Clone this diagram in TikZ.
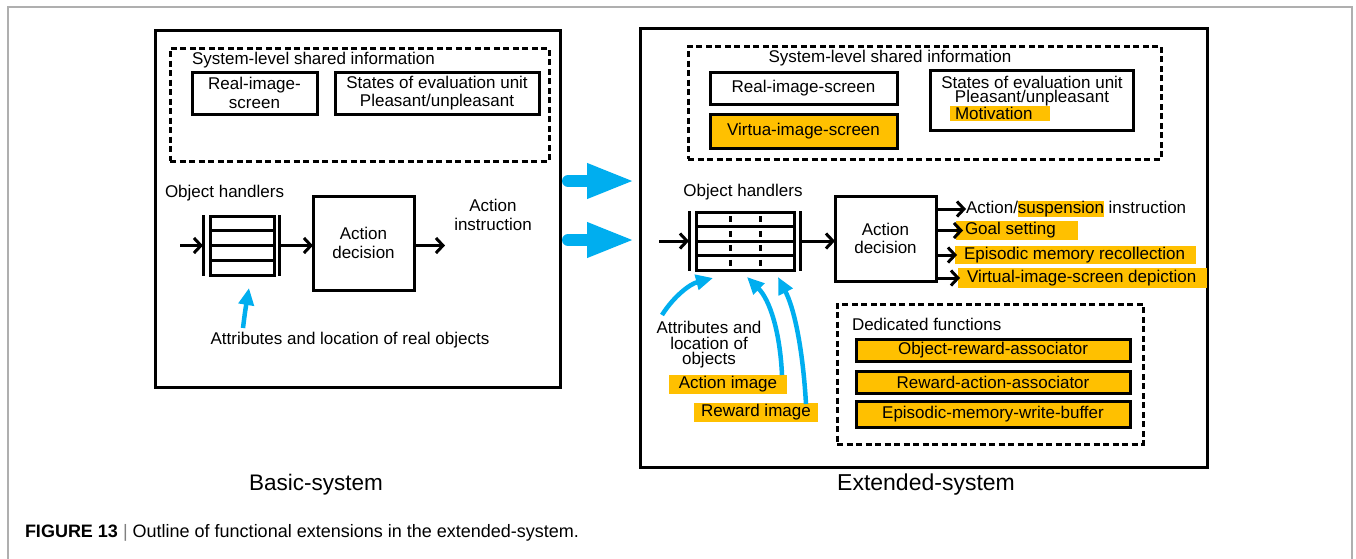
\documentclass[tikz,border=0pt]{standalone}
\usepackage{fontspec}
\setmainfont{Liberation Sans}
\usetikzlibrary{arrows.meta,calc}
\definecolor{hlyellow}{RGB}{255,192,0}
\definecolor{skyblue}{RGB}{0,174,239}
\definecolor{framegray}{RGB}{175,175,175}
\newcommand\mainfs{\fontsize{17pt}{18.5pt}\selectfont}
\newcommand\hlword[1]{{\setlength{\fboxsep}{0pt}\colorbox{hlyellow}{\rule[-4pt]{0pt}{16pt}#1}}}
% left-set text in a box of fixed width: #1 width, #2 left inset, #3 text
\newcommand\lbox[3]{\makebox[#1][l]{\hspace*{#2}#3}}
\begin{document}
\begin{tikzpicture}[x=1pt, y=-1pt,
  every node/.style={inner sep=0pt, outer sep=0pt, font=\mainfs},
  panel/.style={draw, line width=3pt},
  dbox/.style={draw, line width=3pt, dash pattern=on 6pt off 3.5pt},
  sbox/.style={draw, line width=3pt, align=center},
  hlfill/.style={fill=hlyellow},
  arr/.style={line width=3pt, -{Straight Barb[length=7pt,width=15pt]}},
  bline/.style={line width=3pt},
  barrow/.style={skyblue, line width=4.5pt, -{Triangle[length=17pt,width=15pt]}},
  bigarrow/.style={skyblue, line width=12pt, line cap=round, -{Triangle[length=48pt,width=32pt]}}]

\useasboundingbox (0,0) rectangle (1356,558);

% page frame (open at the bottom)
\draw[framegray, line width=1.5pt] (8,570) -- (8,7) -- (1352,7) -- (1352,570);

% ================= basic system =================
\node[panel, minimum width=405pt, minimum height=357pt] (basic) at (357.5,208.5) {};
\node[dbox, minimum width=379pt, minimum height=113pt] (lshared) at (359.5,104.5) {};
\node[anchor=west] (ltitle) at (192,60) {System-level shared information};
\node[sbox, minimum width=125pt, minimum height=42pt] (lreal) at (254.5,93) {Real-image-\\screen};
\node[sbox, minimum width=204pt, minimum height=42pt] (lstate) at (437,93) {States of evaluation unit\\Pleasant/unpleasant};

\node[anchor=west] (lohtxt) at (165,193) {Object handlers};
\node[bline, draw, minimum width=64pt, minimum height=59pt] (lq) at (242,245.5) {};
\foreach \f in {0.25,0.5,0.75}
  \draw[bline] ($(lq.north west)!\f!(lq.south west)$) -- ($(lq.north east)!\f!(lq.south east)$);
\draw[bline] ([xshift=-7pt,yshift=1pt]lq.north west) -- ([xshift=-7pt,yshift=-1pt]lq.south west);
\draw[bline] ([xshift=5pt,yshift=1pt]lq.north east) -- ([xshift=5pt,yshift=-1pt]lq.south east);
\coordinate (lin) at (180,245.5);
\coordinate (lbl) at ([xshift=-7pt]lq.west);
\coordinate (lbr) at ([xshift=5pt]lq.east);

\node[sbox, minimum width=101pt, minimum height=94pt] (lad) at (363.5,243) {Action\\decision};
\node[align=center] (linstr) at (493,215) {Action\\instruction};
\coordinate (lout) at (445,245.5);

\draw[arr] (lin) -- (lbl);
\draw[arr] (lbr) -- (lbr -| lad.west);
\draw[arr] (lbr -| lad.east) -- (lout);

\node (lattr) at (350,340) {Attributes and location of real objects};
\coordinate (lbs) at (243,328);
\coordinate (lbe) at (249,288);
\draw[barrow] (lbs) .. controls (245,312) .. (lbe);

\node[font=\fontsize{22.5pt}{26pt}\selectfont] (basiclabel) at (316,485) {Basic-system};

% ================= extended system =================
\node[panel, minimum width=567pt, minimum height=439pt] (ext) at (923.5,247.5) {};
\node[dbox, minimum width=473pt, minimum height=113pt] (rshared) at (924.5,102.5) {};
\node (rtitle) at (890,58) {System-level shared information};
\node[sbox, minimum width=187pt, minimum height=32pt] (rreal) at (803.5,88) {Real-image-screen};
\node[sbox, hlfill, minimum width=187pt, minimum height=34pt] (rvirt) at (803.5,131) {Virtua-image-screen};
\node[sbox, minimum width=203pt, minimum height=60pt] (rstate) at (1031.5,100) {};
\node (rs1) at (1032,82) {States of evaluation unit};
\node (rs2) at (1032,98) {Pleasant/unpleasant};
\node[hlfill, anchor=west, minimum height=15pt] (rmot) at (950,113.5) {\lbox{100pt}{5pt}{Motivation}};

\node (rohtxt) at (743,192) {Object handlers};
\node[bline, draw, minimum width=98pt, minimum height=58pt] (rq) at (745,241) {};
\foreach \f in {0.25,0.5,0.75}
  \draw[bline] ($(rq.north west)!\f!(rq.south west)$) -- ($(rq.north east)!\f!(rq.south east)$);
\foreach \f in {0.35,0.66}
  \draw[bline, dash pattern=on 6pt off 8.5pt, dash phase=10.25pt]
    ($(rq.north west)!\f!(rq.north east)$) -- ($(rq.south west)!\f!(rq.south east)$);
\draw[bline] ([xshift=-7pt,yshift=1pt]rq.north west) -- ([xshift=-7pt,yshift=-1pt]rq.south west);
\draw[bline] ([xshift=6pt,yshift=1pt]rq.north east) -- ([xshift=6pt,yshift=-1pt]rq.south east);
\coordinate (rin) at (659,241);
\coordinate (rbl) at ([xshift=-7pt]rq.west);
\coordinate (rbr) at ([xshift=6pt]rq.east);

\node[sbox, minimum width=101pt, minimum height=85pt] (rad) at (885.5,238.5) {Action\\decision};

\draw[arr] (rin) -- (rbl);
\draw[arr] (rbr) -- (rbr -| rad.west);

% outputs of the action decision
\node[anchor=west] (o1) at (966,209) {Action/\hlword{suspension} instruction};
\node[hlfill, anchor=west, minimum height=19pt] (o2) at (956,230.5) {\lbox{122pt}{9pt}{Goal setting}};
\node[hlfill, anchor=west, minimum height=18pt] (o3) at (955,255) {\lbox{241pt}{9pt}{Episodic memory recollection}};
\node[hlfill, anchor=west, minimum height=20pt] (o4) at (958,278) {\lbox{249pt}{9pt}{Virtual-image-screen depiction}};

\draw[arr] (rad.east |- o1.west) -- (o1.west);
\draw[arr] (rad.east |- o2.west) -- ([xshift=7pt]o2.west);
\draw[arr] (rad.east |- o3.west) -- ([xshift=2pt]o3.west);
\draw[arr] (rad.east |- o4.west) -- ([xshift=2pt]o4.west);

% inputs to the object handlers
\node[align=center, font=\fontsize{17pt}{15.5pt}\selectfont] (rattr) at (709,345) {Attributes and\\location of\\objects};
\node[hlfill, minimum width=118pt, minimum height=19pt] (ract) at (728,384.5) {Action image};
\node[hlfill, minimum width=124pt, minimum height=19pt] (rrew) at (756,412.5) {Reward image};

\coordinate (ra1s) at (662,315);
\coordinate (ra1e) at (713,278);
\coordinate (ra2s) at (782,375);
\coordinate (ra2e) at (747,277);
\coordinate (ra3s) at (806,404);
\coordinate (ra3e) at (778,277);
\draw[barrow] (ra1s) .. controls (674,296) and (690,284) .. (ra1e);
\draw[barrow] (ra2s) .. controls (780,332) and (770,300) .. (ra2e);
\draw[barrow] (ra3s) .. controls (803,352) and (795,310) .. (ra3e);

% dedicated functions
\node[dbox, minimum width=306pt, minimum height=140pt] (ded) at (990,374) {};
\node[anchor=west] (dedtxt) at (852,324) {Dedicated functions};
\node[sbox, hlfill, minimum width=274pt, minimum height=22pt] (d1) at (993,350) {Object-reward-associator};
\node[sbox, hlfill, minimum width=274pt, minimum height=22pt] (d2) at (993,382) {Reward-action-associator};
\node[sbox, hlfill, minimum width=274pt, minimum height=26pt] (d3) at (993,414) {Episodic-memory-write-buffer};

\node[font=\fontsize{23pt}{26pt}\selectfont] (extlabel) at (926,485) {Extended-system};

% ================= extension arrows =================
\coordinate (ya) at (600,181);
\coordinate (yb) at (600,240);
\draw[bigarrow] ([xshift=8pt]basic.east |- ya) -- ([xshift=-5pt]ext.west |- ya);
\draw[bigarrow] ([xshift=8pt]basic.east |- yb) -- ([xshift=-5pt]ext.west |- yb);

% caption
\node[anchor=west, font=\fontsize{18pt}{20pt}\selectfont] (caption) at (25,533)
  {\textbf{FIGURE 13} {\color{gray}|} Outline of functional extensions in the extended-system.};
\end{tikzpicture}
\end{document}
